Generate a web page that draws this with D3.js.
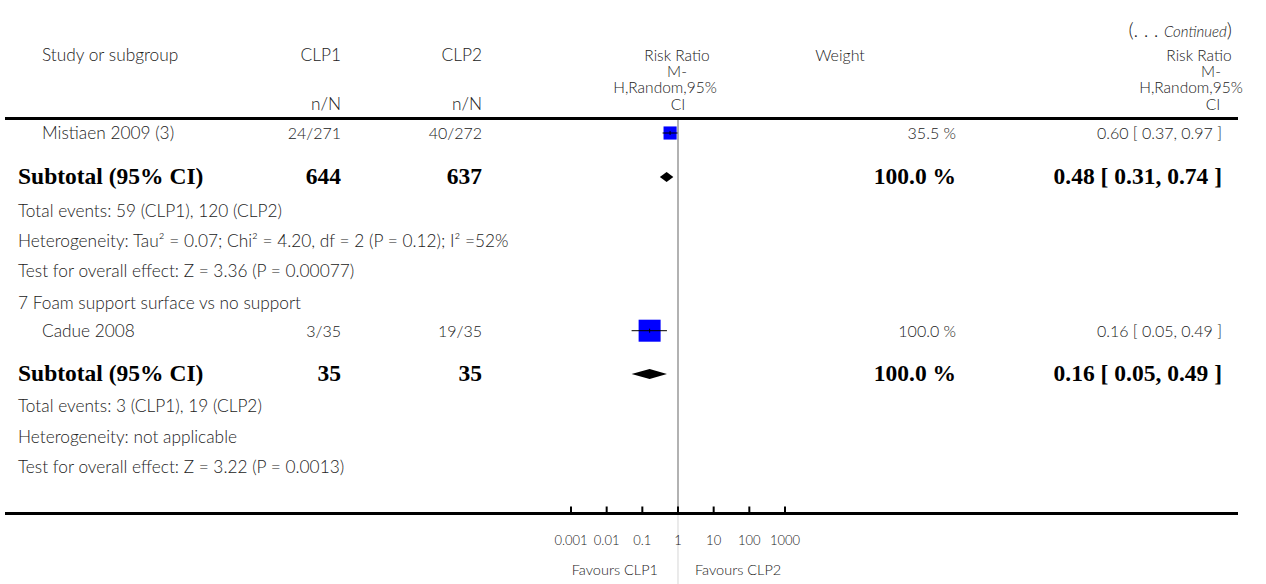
<!DOCTYPE html>
<html>
<head>
<meta charset="utf-8">
<script src="https://cdn.jsdelivr.net/npm/d3@7/dist/d3.min.js"></script>
<style>
  html, body { margin: 0; padding: 0; background: #fff; }
  svg { display: block; }
  .lt { font-family: Lato, "Open Sans", sans-serif; font-weight: 300; fill: #222; }
  .bd { font-family: "Liberation Serif", "DejaVu Serif", serif; font-weight: bold; fill: #000; }
</style>
</head>
<body>
<svg id="chart" width="1266" height="584"></svg>
<script>
// ---------------- data ----------------
const studyNames   = ["Mistiaen 2009 (3)", "Cadue 2008"];
const studyCLP1    = ["24/271", "3/35"];
const studyCLP2    = ["40/272", "19/35"];
const studyRR      = [0.60, 0.16];
const studyLo      = [0.37, 0.05];
const studyHi      = [0.97, 0.49];
const studyWeight  = [35.5, 100.0];

const subN1        = [644, 35];
const subN2        = [637, 35];
const subRR        = [0.48, 0.16];
const subLo        = [0.31, 0.05];
const subHi        = [0.74, 0.49];
const subWeight    = [100.0, 100.0];

const groupTitles  = ["", "7 Foam support surface vs no support"];
const totalEvents  = ["Total events: 59 (CLP1), 120 (CLP2)", "Total events: 3 (CLP1), 19 (CLP2)"];
const heterogeneity = ["Heterogeneity: Tau\u00B2 = 0.07; Chi\u00B2 = 4.20, df = 2 (P = 0.12); I\u00B2 =52%", "Heterogeneity: not applicable"];
const overallTest  = ["Test for overall effect: Z = 3.36 (P = 0.00077)", "Test for overall effect: Z = 3.22 (P = 0.0013)"];

const axisTicks    = [0.001, 0.01, 0.1, 1, 10, 100, 1000];
const axisLabels   = ["0.001", "0.01", "0.1", "1", "10", "100", "1000"];
const favourLabels = ["Favours CLP1", "Favours CLP2"];
const rrHead       = ["Risk Ratio", "M-", "H,Random,95%", "CI"];

// ---------------- layout ----------------
const svg = d3.select("#chart");
const x = d3.scaleLog().domain([0.001, 1000]).range([571, 785]);
const box = d3.scaleSqrt().domain([0, 100]).range([0, 22]);

const colStudy = 42, colGroup = 18, colC1 = 341, colC2 = 482, colW = 956, colRR = 1222;
const fmt = d3.format(".2f");
const ciText = (r, l, h) => `${fmt(r)} [ ${fmt(l)}, ${fmt(h)} ]`;
const TXT = 17.3, NUM = 16;

const lt = (t, xx, yy, anchor, size) => svg.append("text").attr("class", "lt")
  .attr("x", xx).attr("y", yy).attr("text-anchor", anchor || "start")
  .style("font-size", (size || TXT) + "px").text(t);
const bd = (t, xx, yy, anchor) => svg.append("text").attr("class", "bd")
  .attr("x", xx).attr("y", yy).attr("text-anchor", anchor || "start")
  .style("font-size", "23.5px").text(t);

// header
const cont = svg.append("text").attr("x", 1232).attr("y", 37).attr("text-anchor", "end")
  .attr("class", "lt").style("font-size", "20px");
cont.append("tspan").text("(. . . ");
cont.append("tspan").style("font-style", "italic").style("font-size", "15px").text("Continued");
cont.append("tspan").text(")");

const hy = [61, 77, 93, 110];
lt("Study or subgroup", colStudy, hy[0]);
[colC1, colC2].forEach((cx, i) => {
  const t = svg.append("text").attr("class", "lt").attr("text-anchor", "end").style("font-size", TXT + "px");
  t.append("tspan").attr("x", cx).attr("y", hy[0]).text(i === 0 ? "CLP1" : "CLP2");
  t.append("tspan").attr("x", cx).attr("y", hy[3]).text("n/N");
});
const headBlock = (xs) => {
  const t = svg.append("text").attr("class", "lt").attr("text-anchor", "middle").style("font-size", "15.5px");
  rrHead.forEach((s, i) => t.append("tspan").attr("x", xs[i]).attr("y", hy[i]).text(s));
};
headBlock([677, 677, 665, 678]);
headBlock([1199, 1211, 1191, 1213]);
lt("Weight", 840, hy[0], "middle", 16);

// rules
svg.append("line").attr("x1", 5).attr("x2", 1238).attr("y1", 118.5).attr("y2", 118.5)
  .attr("stroke", "#000").attr("stroke-width", 3);

// vertical no-effect line
svg.append("line").attr("x1", x(1)).attr("x2", x(1)).attr("y1", 120).attr("y2", 513)
  .attr("stroke", "#999").attr("stroke-width", 1.5);
svg.append("line").attr("x1", x(1)).attr("x2", x(1)).attr("y1", 513).attr("y2", 584)
  .attr("stroke", "#ddd").attr("stroke-width", 1.2);

// rows
const studyY = [133, 330.7];
const subY = [177, 374];
const groupY = [null, 304];
const infoY = [[212, 242, 272], [407, 438, 468]];

studyNames.forEach((name, i) => {
  const yy = studyY[i];
  if (groupTitles[i]) lt(groupTitles[i], colGroup, groupY[i] + 5);
  lt(name, colStudy, yy + 6);
  lt(studyCLP1[i], colC1, yy + 6, "end", NUM);
  lt(studyCLP2[i], colC2, yy + 6, "end", NUM);
  lt(studyWeight[i].toFixed(1) + " %", colW, yy + 6, "end", NUM);
  lt(ciText(studyRR[i], studyLo[i], studyHi[i]), colRR, yy + 6, "end", NUM);

  const s = box(studyWeight[i]);
  svg.append("rect").attr("x", x(studyRR[i]) - s / 2).attr("y", yy - s / 2)
    .attr("width", s).attr("height", s).attr("fill", "#0000ff");
  svg.append("line").attr("x1", x(studyLo[i])).attr("x2", x(studyHi[i]))
    .attr("y1", yy).attr("y2", yy).attr("stroke", "#000").attr("stroke-width", 1);
  svg.append("line").attr("x1", x(studyRR[i])).attr("x2", x(studyRR[i]))
    .attr("y1", yy - 2).attr("y2", yy + 2).attr("stroke", "#000").attr("stroke-width", 1);

  const sy = subY[i];
  bd("Subtotal (95% CI)", colGroup, sy + 7);
  bd(String(subN1[i]), colC1, sy + 7, "end");
  bd(String(subN2[i]), colC2, sy + 7, "end");
  bd(subWeight[i].toFixed(1) + " %", colW, sy + 7, "end");
  bd(ciText(subRR[i], subLo[i], subHi[i]), colRR, sy + 7, "end");
  svg.append("polygon")
    .attr("points", [[x(subLo[i]), sy], [x(subRR[i]), sy - 5], [x(subHi[i]), sy], [x(subRR[i]), sy + 5]].join(" "))
    .attr("fill", "#000");

  [totalEvents[i], heterogeneity[i], overallTest[i]].forEach((t, k) => lt(t, colGroup, infoY[i][k] + 5));
});

// axis
svg.append("line").attr("x1", 5).attr("x2", 1238).attr("y1", 513.5).attr("y2", 513.5)
  .attr("stroke", "#000").attr("stroke-width", 3);
const ax = svg.append("g");
ax.selectAll("line.tk").data(axisTicks).enter().append("line")
  .attr("x1", d => x(d)).attr("x2", d => x(d)).attr("y1", 506.5).attr("y2", 513)
  .attr("stroke", "#000").attr("stroke-width", 2);
ax.selectAll("text").data(axisTicks).enter().append("text")
  .attr("class", "lt").attr("x", d => x(d)).attr("y", 545).attr("text-anchor", "middle")
  .style("font-size", "13px").text((d, i) => axisLabels[i]);
lt(favourLabels[0], x(1) - 20, 575, "end", 14.5);
lt(favourLabels[1], x(1) + 17, 575, "start", 14.5);
</script>
</body>
</html>
